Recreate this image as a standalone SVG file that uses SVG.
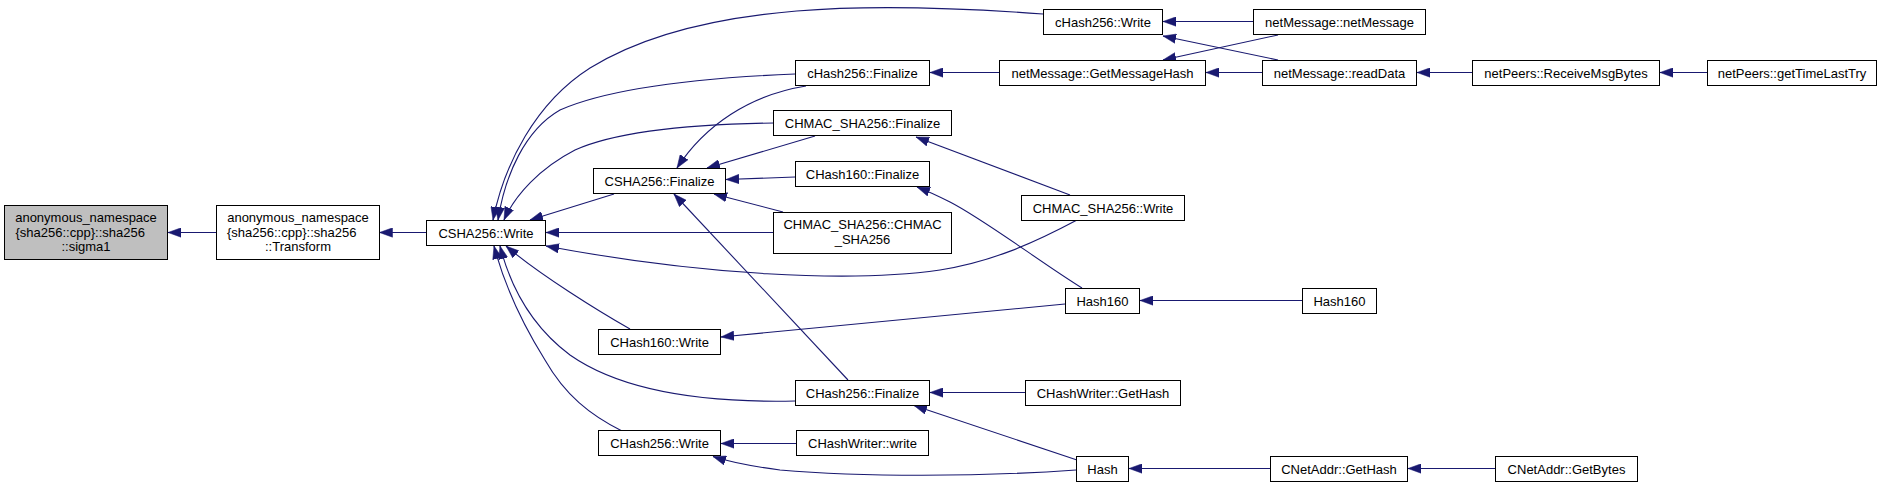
<svg xmlns="http://www.w3.org/2000/svg" width="1884" height="488" viewBox="0 0 1884 488">
<style>
.n rect{fill:#ffffff;stroke:#000000;stroke-width:1}
.root rect{fill:#bfbfbf}
text{font-family:"Liberation Sans",Arial,sans-serif;font-size:13px;fill:#000000;text-anchor:middle}
text.l{text-anchor:start}
#edges path{fill:none;stroke:#191970;stroke-width:1.1;marker-end:url(#ah)}
</style>
<defs>
<marker id="ah" viewBox="0 0 13 10" refX="13" refY="5" markerWidth="13" markerHeight="10" markerUnits="userSpaceOnUse" orient="auto">
<path d="M0,0.3L13,5L0,9.7z" fill="#191970" stroke="#191970" stroke-width="0.5"/>
</marker>
</defs>
<rect width="1884" height="488" fill="#ffffff"/>
<g id="edges">
<path d="M216,232.5L168,232.5"/>
<path d="M426,232.5L379.5,232.5"/>
<path d="M614,194L530,220"/>
<path d="M1043,14C880,2 700,0 590,68C535,103 504,165 493,220"/>
<path d="M795,74C700,78 610,88 560,110C525,130 505,175 498,220"/>
<path d="M774,123C700,124 620,130 575,150C540,168 515,195 504,220"/>
<path d="M774,232.5L546,232.5"/>
<path d="M1077,220C1030,245 990,262 940,270C850,283 700,275 546,246"/>
<path d="M630,329C600,312 540,275 506,246"/>
<path d="M795,401C700,403 620,390 570,355C530,325 510,285 500,246"/>
<path d="M622,431C590,415 565,395 545,360C520,320 503,280 494,246"/>
<path d="M806,86C750,95 705,125 677,168"/>
<path d="M815,136L707,168"/>
<path d="M795,177L726,179.5"/>
<path d="M783,212L714,194"/>
<path d="M848,380L674,194"/>
<path d="M999,72.5L930,72.5"/>
<path d="M1253,21.5L1163,21.5"/>
<path d="M1278,60L1163,36"/>
<path d="M1278,35L1163,60"/>
<path d="M1262,72.5L1206,72.5"/>
<path d="M1472,72.5L1417,72.5"/>
<path d="M1707,72.5L1660,72.5"/>
<path d="M1070,195L916,137"/>
<path d="M1082,288C1040,262 985,220 950,202C940,197 930,192 917,187"/>
<path d="M1065,304L721,337"/>
<path d="M1302,300.5L1140,300.5"/>
<path d="M1025,392.5L930,392.5"/>
<path d="M1077,460L914,405.5"/>
<path d="M796,443.5L721,443.5"/>
<path d="M1076,470C980,477 860,477 780,470C750,466 730,462 713,456.5"/>
<path d="M1270,468.5L1129,468.5"/>
<path d="M1495,468.5L1408,468.5"/>
</g>
<g id="sigma1" class="n root"><rect x="4.5" y="205.5" width="163" height="54"/><text x="86" y="222.2">anonymous_namespace</text><text class="l" x="15.5" y="236.8">{sha256::cpp}::sha256</text><text x="86" y="251.2">::sigma1</text></g>
<g id="transform" class="n"><rect x="216.5" y="205.5" width="163" height="54"/><text x="298" y="222.2">anonymous_namespace</text><text class="l" x="227" y="236.8">{sha256::cpp}::sha256</text><text x="298" y="251.2">::Transform</text></g>
<g id="csha256_write" class="n"><rect x="426.5" y="220.5" width="119" height="25"/><text x="486" y="237.5">CSHA256::Write</text></g>
<g id="csha256_finalize" class="n"><rect x="593.5" y="168.5" width="132" height="25"/><text x="659.5" y="185.5">CSHA256::Finalize</text></g>
<g id="chash256_write_lc" class="n"><rect x="1043.5" y="9.5" width="119" height="25"/><text x="1103" y="26.5">cHash256::Write</text></g>
<g id="netmessage_netmessage" class="n"><rect x="1253.5" y="9.5" width="172" height="25"/><text x="1339.5" y="26.5">netMessage::netMessage</text></g>
<g id="chash256_finalize_lc" class="n"><rect x="795.5" y="60.5" width="134" height="25"/><text x="862.5" y="77.5">cHash256::Finalize</text></g>
<g id="netmessage_getmessagehash" class="n"><rect x="999.5" y="60.5" width="206" height="25"/><text x="1102.5" y="77.5">netMessage::GetMessageHash</text></g>
<g id="netmessage_readdata" class="n"><rect x="1262.5" y="60.5" width="154" height="25"/><text x="1339.5" y="77.5">netMessage::readData</text></g>
<g id="netpeers_receivemsgbytes" class="n"><rect x="1472.5" y="60.5" width="187" height="25"/><text x="1566" y="77.5">netPeers::ReceiveMsgBytes</text></g>
<g id="netpeers_gettimelasttry" class="n"><rect x="1707.5" y="60.5" width="169" height="25"/><text x="1792" y="77.5">netPeers::getTimeLastTry</text></g>
<g id="chmac_sha256_finalize" class="n"><rect x="773.5" y="110.5" width="178" height="25"/><text x="862.5" y="127.5">CHMAC_SHA256::Finalize</text></g>
<g id="chash160_finalize" class="n"><rect x="795.5" y="161.5" width="134" height="25"/><text x="862.5" y="178.5">CHash160::Finalize</text></g>
<g id="chmac_sha256_write" class="n"><rect x="1021.5" y="195.5" width="163" height="25"/><text x="1103" y="212.5">CHMAC_SHA256::Write</text></g>
<g id="chmac_sha256_ctor" class="n"><rect x="773.5" y="212.5" width="178" height="41"/><text x="862.5" y="228.5">CHMAC_SHA256::CHMAC</text><text x="862.5" y="243.8">_SHA256</text></g>
<g id="hash160_a" class="n"><rect x="1065.5" y="288.5" width="74" height="25"/><text x="1102.5" y="305.5">Hash160</text></g>
<g id="hash160_b" class="n"><rect x="1302.5" y="288.5" width="74" height="25"/><text x="1339.5" y="305.5">Hash160</text></g>
<g id="chash160_write" class="n"><rect x="598.5" y="329.5" width="122" height="25"/><text x="659.5" y="346.5">CHash160::Write</text></g>
<g id="chash256_finalize" class="n"><rect x="795.5" y="380.5" width="134" height="25"/><text x="862.5" y="397.5">CHash256::Finalize</text></g>
<g id="chashwriter_gethash" class="n"><rect x="1025.5" y="380.5" width="155" height="25"/><text x="1103" y="397.5">CHashWriter::GetHash</text></g>
<g id="chash256_write" class="n"><rect x="598.5" y="430.5" width="122" height="25"/><text x="659.5" y="447.5">CHash256::Write</text></g>
<g id="chashwriter_write" class="n"><rect x="796.5" y="430.5" width="132" height="25"/><text x="862.5" y="447.5">CHashWriter::write</text></g>
<g id="hash" class="n"><rect x="1076.5" y="456.5" width="52" height="25"/><text x="1102.5" y="473.5">Hash</text></g>
<g id="cnetaddr_gethash" class="n"><rect x="1270.5" y="456.5" width="137" height="25"/><text x="1339" y="473.5">CNetAddr::GetHash</text></g>
<g id="cnetaddr_getbytes" class="n"><rect x="1495.5" y="456.5" width="142" height="25"/><text x="1566.5" y="473.5">CNetAddr::GetBytes</text></g>
</svg>
